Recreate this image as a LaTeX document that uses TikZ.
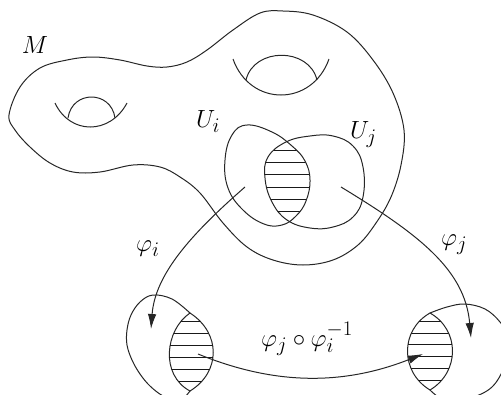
\documentclass[tikz,border=0pt]{standalone}
\usetikzlibrary{arrows.meta}
\begin{document}
\begin{tikzpicture}[x=1pt,y=-1pt,
  curve/.style={line width=1pt, black!85},
  hatch/.style={line width=0.9pt, black!90},
  maparrow/.style={line width=1pt, black!85, -{Latex[length=15pt,width=8.5pt]}},
  lbl/.style={inner sep=0pt, font=\fontsize{29}{32}\selectfont}]
\useasboundingbox (0,0) rectangle (501,394);
\clip (0,0) rectangle (501,394);
% manifold M
\draw[curve] plot[smooth cycle, tension=0.6] coordinates {
  (9,115) (20,87) (40,68) (67,60) (93,57) (120,60) (147,66) (167,67) (187,62)
  (207,50) (233,30) (260,13) (283,11) (313,15) (347,32) (373,60) (393,93)
  (404,130) (401,165) (391,197) (376,223) (358,245) (333,260) (303,265)
  (273,260) (247,247) (223,223) (200,193) (180,177) (160,167) (133,165)
  (100,172) (73,172) (50,163) (30,147) (15,130)};
% handles
\draw[curve] (55,103) .. controls (70,135) and (110,135) .. (127,103);
\draw[curve] (68,118) .. controls (72,90) and (111,90) .. (115,118);
\draw[curve] (233,59) .. controls (250,107) and (312,107) .. (329,59);
\draw[curve] (246,80) .. controls (254,47) and (309,47) .. (317,80);
% U_i and U_j
\def\UiPath{plot[smooth cycle, tension=0.7] coordinates {
  (247,125) (272,132) (292,146) (305,161) (310,180) (306,201) (296,216)
  (282,225) (264,224) (243,210) (228,188) (225,160) (232,135)}}
\def\UjPath{plot[smooth cycle, tension=0.7] coordinates {
  (268,157) (286,142) (310,136) (333,136) (353,146) (363,167) (363,197)
  (353,217) (333,227) (310,228) (287,220) (272,202) (265,178)}}
\begin{scope}
  \clip \UiPath;
  \clip \UjPath;
  \foreach \yy in {150,162,174,187,199,211} \draw[hatch] (250,\yy) -- (330,\yy);
\end{scope}
\draw[curve] \UiPath;
\draw[curve] \UjPath;
% bottom-left region
\draw[curve] (190,313) .. controls (221,333) and (221,372) .. (190,391)
  .. controls (160,375) and (165,330) .. (190,313) -- cycle;
\draw[curve] plot[smooth, tension=0.6] coordinates {
  (190,391) (178,402) (163,396) (150,386) (140,374) (132,360) (127,345)
  (127,330) (131,315) (140,302) (153,295) (172,299) (190,313)};
\begin{scope}
  \clip (190,313) .. controls (221,333) and (221,372) .. (190,391)
  .. controls (160,375) and (165,330) .. (190,313) -- cycle;
  \foreach \yy in {321,333,345,357,369,381} \draw[hatch] (150,\yy) -- (230,\yy);
\end{scope}
% bottom-right region
\draw[curve] (430,313) .. controls (460,330) and (460,372) .. (430,390)
  .. controls (400,372) and (400,330) .. (430,313) -- cycle;
\draw[curve] plot[smooth, tension=0.6] coordinates {
  (430,390) (445,400) (470,398) (492,387) (505,365) (510,340) (500,322)
  (485,309) (465,304) (447,307) (430,313)};
\begin{scope}
  \clip (430,313) .. controls (460,330) and (460,372) .. (430,390)
  .. controls (400,372) and (400,330) .. (430,313) -- cycle;
  \foreach \yy in {321,333,344,356,368,380} \draw[hatch] (390,\yy) -- (470,\yy);
\end{scope}
% arrows
\coordinate (si) at (245,187);
\coordinate (ti) at (151,329);
\coordinate (sj) at (341,187);
\coordinate (tj) at (471,338);
\coordinate (sc) at (198,354);
\coordinate (tc) at (423,354);
\draw[maparrow] (si) .. controls (190,235) and (155,275) .. (ti);
\draw[maparrow] (sj) .. controls (420,235) and (465,270) .. (tj);
\draw[maparrow] (sc) .. controls (262,380) and (332,390) .. (tc);
% labels
\node[lbl, anchor=center] (M) at (35,45) {$M$};
\node[lbl, anchor=base west] (Ui) at (196,127) {$U_i$};
\node[lbl, anchor=base west] (Uj) at (350,138) {$U_j$};
\node[lbl, anchor=base west] (phii) at (136,251) {$\varphi_i$};
\node[lbl, anchor=base west] (phij) at (441,245) {$\varphi_j$};
\node[lbl, anchor=base west] (phic) at (261,346) {$\varphi_j\circ\varphi_i^{-1}$};
\end{tikzpicture}
\end{document}
